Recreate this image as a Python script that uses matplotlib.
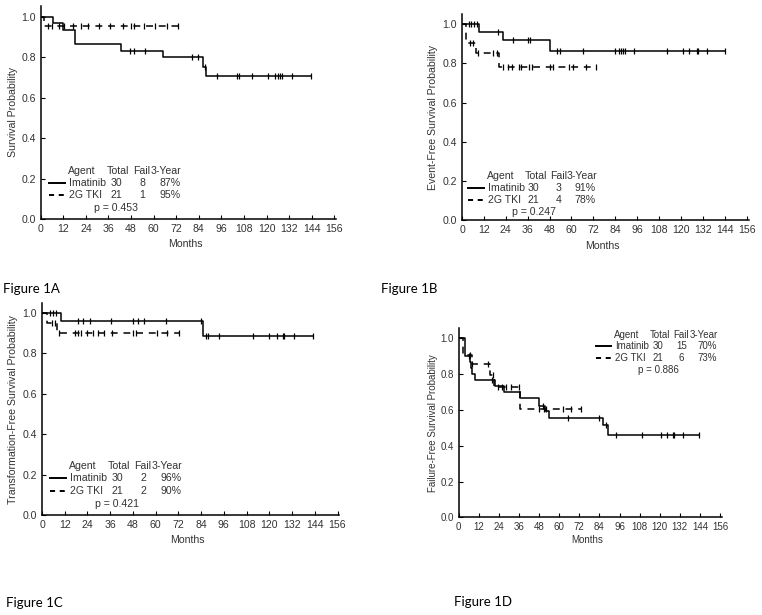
import numpy as np
import matplotlib
matplotlib.use("Agg")
import matplotlib.pyplot as plt
from matplotlib.lines import Line2D

plt.rcParams["font.family"] = ["Liberation Sans", "DejaVu Sans"]

W, H = 762, 615
months_ticks = np.arange(0, 157, 12)
y_ticks = [0.0, 0.2, 0.4, 0.6, 0.8, 1.0]

# --- values (step times, survival levels, censor times) ---
# Figure 1A: overall survival
a_ima_times = [0, 6.4, 12, 18, 42.5, 65, 86, 88]
a_ima_surv = [1.0, 0.967, 0.933, 0.867, 0.833, 0.800, 0.753, 0.708]
a_ima_end = 143.5
a_ima_cens = [47.4, 49.7, 55.4, 80.5, 83.7, 87.3, 93.8, 104.4, 105.5, 112, 120.5,
              124.4, 125.8, 127.1, 128, 133.6, 143.5]
a_tki_times = [0, 2]
a_tki_surv = [1.0, 0.952]
a_tki_end = 73.1
a_tki_cens = [4.0, 6.2, 9.6, 12.5, 16.9, 21.4, 24.9, 31.1, 36.8, 43.9, 47.9, 49.7,
              54.9, 60.9, 67.1, 73.1]

# Figure 1B: event-free survival
b_ima_times = [0, 9.5, 22.3, 48.2]
b_ima_surv = [1.0, 0.958, 0.917, 0.864]
b_ima_end = 144.1
b_ima_cens = [4, 5.1, 6.6, 8.4, 19.5, 27.8, 36.3, 37.3, 51.9, 53.7, 66.1, 83.8, 86.2,
              87.1, 88.4, 89.3, 94.4, 112.5, 120.9, 124.6, 128.6, 129.2, 134.1, 144.1]
b_tki_times = [0, 2, 7.5, 20.3]
b_tki_surv = [1.0, 0.905, 0.852, 0.781]
b_tki_end = 73.3
b_tki_cens = [4.4, 6.2, 8.9, 17.2, 19, 22.6, 25.4, 27.6, 31.4, 32.2, 36.9, 38.2,
              48.1, 50.1, 58.6, 61, 67.8, 73.3]

# Figure 1C: transformation-free survival
c_ima_times = [0, 9.9, 85.2]
c_ima_surv = [1.0, 0.958, 0.885]
c_ima_end = 142.9
c_ima_cens = [4.2, 5.6, 7.2, 18.8, 21.8, 25.3, 36.4, 47.9, 50.8, 53.9, 65.3, 83.8,
              86.6, 87.8, 93.6, 111.2, 120, 123.9, 127.4, 127.9, 133.2, 142.9]
c_tki_times = [0, 2.5, 7.8]
c_tki_surv = [1.0, 0.952, 0.899]
c_tki_end = 72.5
c_tki_cens = [5.1, 6.9, 9.1, 17.4, 19.2, 20.4, 23.9, 26.8, 29.7, 32.7, 36.8, 48.2,
              49.6, 60.5, 66.2, 72.5]

# Figure 1D: failure-free survival
d_ima_times = [0, 3.7, 6.5, 7.5, 8.0, 9.5, 21.8, 27.2, 36.6, 48.1, 51.5, 54.1, 86.3, 88.9]
d_ima_surv = [1.0, 0.900, 0.867, 0.833, 0.800, 0.767, 0.733, 0.698, 0.665, 0.624,
              0.594, 0.553, 0.516, 0.460]
d_ima_end = 143.6
d_ima_cens = [6.3, 19.7, 50.5, 65.4, 84, 87.9, 93.9, 109.3, 120.8, 124.5, 127.7,
              128.4, 134.1, 143.6]
d_tki_times = [0, 2.4, 7.7, 18.7, 21.3, 36.6]
d_tki_surv = [1.0, 0.905, 0.857, 0.795, 0.730, 0.605]
d_tki_end = 73.4
d_tki_cens = [6.7, 8.1, 17.7, 20.7, 23.3, 25.7, 28.1, 31.2, 36.2, 48.1, 50.9, 52.1,
              62.1, 67, 72.8]

ylabels = ["Survival Probability", "Event-Free Survival Probability",
           "Transformation-Free Survival Probability", "Failure-Free Survival Probability"]
fig_labels = ["Figure 1A", "Figure 1B", "Figure 1C", "Figure 1D"]
agents = ["Imatinib", "2G TKI"]
totals = [[30, 21], [30, 21], [30, 21], [30, 21]]
fails = [[8, 1], [3, 4], [2, 2], [15, 6]]
three_year = [["87%", "95%"], ["91%", "78%"], ["96%", "90%"], ["70%", "73%"]]
p_values = ["p = 0.453", "p = 0.247", "p = 0.421", "p = 0.886"]

# panel geometry in pixels: left, top, right, bottom, y max, font size
geom = [
    (40.7, 6, 336.3, 219, 1.053, 7.6),
    (462, 14, 748.5, 220.3, 1.051, 7.6),
    (42, 303, 339.4, 515.3, 1.049, 7.6),
    (458.7, 328.3, 721.7, 517.3, 1.056, 7.0),
]
# legend anchor (x of line start, y of header), scale of the table
legend_pos = [(49, 170.7, 1.0), (468.3, 175.7, 0.97), (50, 466, 1.0), (596, 335, 0.92)]
months_y = [244.3, 245.7, 540, 540]
ylabel_x = [12.7, 433.3, 12.7, 432.7]
figlabel_pos = [(3, 289), (381, 289), (6, 603), (454, 602)]

panels = [
    [(a_ima_times, a_ima_surv, a_ima_end, a_ima_cens), (a_tki_times, a_tki_surv, a_tki_end, a_tki_cens)],
    [(b_ima_times, b_ima_surv, b_ima_end, b_ima_cens), (b_tki_times, b_tki_surv, b_tki_end, b_tki_cens)],
    [(c_ima_times, c_ima_surv, c_ima_end, c_ima_cens), (c_tki_times, c_tki_surv, c_tki_end, c_tki_cens)],
    [(d_ima_times, d_ima_surv, d_ima_end, d_ima_cens), (d_tki_times, d_tki_surv, d_tki_end, d_tki_cens)],
]

LW = 1.1
DASH = (4.5, 3.8)
TXT = "#333333"


def fx(x):
    return x / W


def fy(y):
    return 1 - y / H


def level_at(times, surv, t):
    idx = np.searchsorted(times, t, side="right") - 1
    return np.asarray(surv)[idx]


def put(x, y, s, fs, ha="left"):
    fig.text(fx(x), fy(y), s, ha=ha, va="center", fontsize=fs, color=TXT)


fig = plt.figure(figsize=(W / 100, H / 100), dpi=100)

for i, (curves, g) in enumerate(zip(panels, geom)):
    left, top, right, bottom, ymax, fs = g
    ax = fig.add_axes([fx(left), fy(bottom), (right - left) / W, (bottom - top) / H])
    for k, (times, surv, end, cens) in enumerate(curves):
        xs = list(times) + [end]
        ys = list(surv) + [surv[-1]]
        ls = "-" if k == 0 else (0, DASH)
        ax.step(xs, ys, where="post", color="black", lw=LW, linestyle=ls)
        cy = level_at(times, surv, np.array(cens))
        ax.plot(cens, cy, linestyle="none", marker="|", markersize=4.8,
                markeredgewidth=0.9, color="black")

    ax.set_xlim(0, 157)
    ax.set_ylim(0, ymax)
    ax.set_xticks(months_ticks)
    ax.set_yticks(y_ticks)
    ax.set_yticklabels([f"{v:.1f}" for v in y_ticks])
    for s in ["top", "right"]:
        ax.spines[s].set_visible(False)
    for s in ["left", "bottom"]:
        ax.spines[s].set_linewidth(1.1)
    ax.tick_params(direction="in", length=3, width=0.8, labelsize=fs, pad=3.5,
                   colors="black", labelcolor=TXT)

    # axis titles
    fig.text(fx(ylabel_x[i]), fy((top + bottom) / 2), ylabels[i], rotation=90,
             ha="center", va="center", fontsize=fs, color=TXT)
    put((left + right) / 2 - 3, months_y[i], "Months", fs, ha="center")

    # legend table
    lx, ly, sc = legend_pos[i]
    dy = 12.3 * sc
    put(lx + 19.3 * sc, ly, "Agent", fs)
    put(lx + 58 * sc, ly, "Total", fs)
    put(lx + 84.3 * sc, ly, "Fail", fs)
    put(lx + 101.7 * sc, ly, "3-Year", fs)
    for k in range(2):
        yy = ly + dy * (k + 1)
        ls = "-" if k == 0 else (0, (2.6, 2.4))
        fig.add_artist(Line2D([fx(lx), fx(lx + 16 * sc)], [fy(yy), fy(yy)], color="black",
                              lw=1.4, linestyle=ls, transform=fig.transFigure))
        put(lx + 20.3 * sc, yy, agents[k], fs)
        put(lx + 67.5 * sc, yy, str(totals[i][k]), fs, ha="center")
        put(lx + 93 * sc, yy, str(fails[i][k]), fs, ha="center")
        put(lx + 120.7 * sc, yy, three_year[i][k], fs, ha="center")
    put(lx + 45.3 * sc, ly + dy * 3.05, p_values[i], fs)

    fig.text(fx(figlabel_pos[i][0]), fy(figlabel_pos[i][1]), fig_labels[i], ha="left",
             va="center", fontsize=9.5, family=["Lato", "DejaVu Sans"], color="black")

fig.savefig("out.png", dpi=100)
